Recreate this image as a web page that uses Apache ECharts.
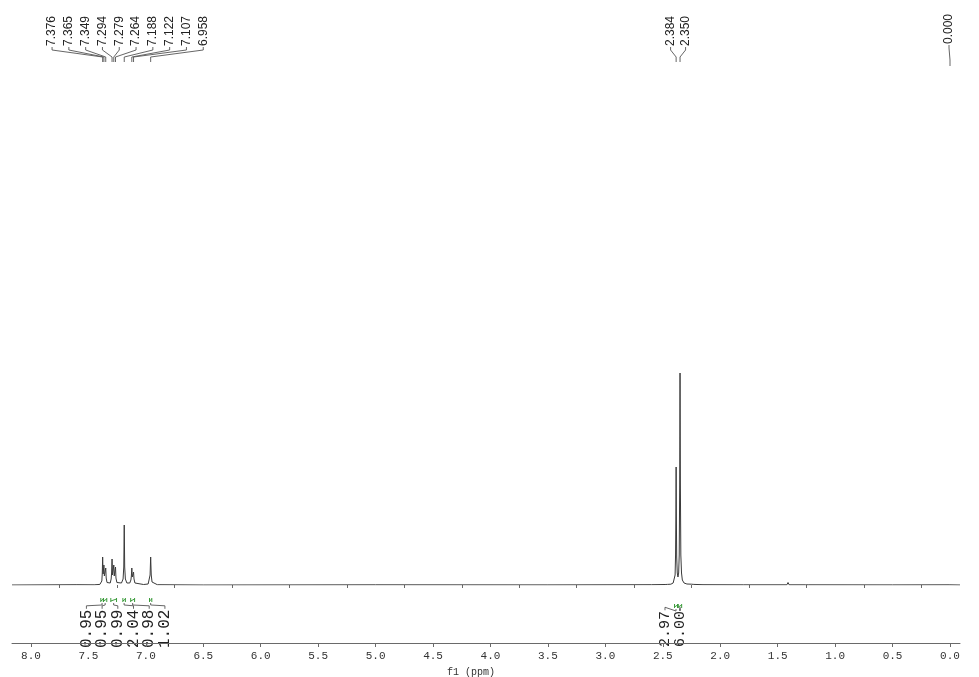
<!DOCTYPE html>
<html><head><meta charset="utf-8">
<script src="https://cdn.jsdelivr.net/npm/echarts@6/dist/echarts.min.js"></script>
<style>html,body{margin:0;padding:0;background:#fff}#c{width:979px;height:677px}</style>
</head><body><div id="c"></div>
<script>
// ---- data ----
const specPpm = [8.165,7.60,7.45,7.40,7.390,7.383,7.379,7.376,7.372,7.369,7.365,7.361,7.354,7.349,7.345,7.338,7.325,7.310,7.302,7.298,7.294,7.290,7.284,7.279,7.275,7.269,7.264,7.260,7.252,7.235,7.212,7.198,7.192,7.188,7.184,7.178,7.165,7.140,7.130,7.126,7.122,7.118,7.112,7.107,7.103,7.095,7.080,7.020,6.980,6.970,6.963,6.958,6.953,6.946,6.935,6.900,6.500,5.000,3.500,2.600,2.480,2.467,2.460,2.430,2.410,2.400,2.393,2.389,2.386,2.384,2.382,2.379,2.374,2.368,2.362,2.357,2.353,2.350,2.347,2.343,2.337,2.330,2.315,2.290,2.250,2.238,2.230,2.150,1.800,1.420,1.410,1.400,1.255,1.245,1.235,0.500,0.008,0.000,-0.008,-0.087];
const specInt = [0,0.3,0.2,0.6,1.5,4,12,28,11,11,20,9,8,17,7,2.5,1.2,2,6,12,26,10,10,20,9,9,18,7,2.5,1.2,2,6,18,60,18,6,2,2,5,9,17,8,7,13,6,2,1,0.5,1,3,10,28,10,3,1,0.3,0,0.2,0.1,0.3,0.5,2,0.6,0.8,2,4,10,30,70,118,70,28,12,8,12,30,100,212,100,30,12,5,2,1,0.8,2,0.6,0.3,0.2,0.2,2.5,0.2,0.2,1.2,0.2,0.1,0.2,2,0.2,0];
const majorTicks = [0,0.5,1,1.5,2,2.5,3,3.5,4,4.5,5,5.5,6,6.5,7,7.5,8];
const minorTicks = [0.25,0.75,1.25,1.75,2.25,2.75,3.25,3.75,4.25,4.75,5.25,5.75,6.25,6.75,7.25,7.75];
const peaksAromatic = [7.376,7.365,7.349,7.294,7.279,7.264,7.188,7.122,7.107,6.958];
const peaksMethyl = [2.384,2.350];
const peaksRef = [0.000];
const intAroFrom = [7.392,7.368,7.305,7.200,7.132,6.968];
const intAroTo   = [7.370,7.340,7.255,7.178,7.098,6.948];
const intAroVals = ['0.95','0.95','0.99','2.04','0.98','1.02'];
const intMetFrom = [2.398,2.365];
const intMetTo   = [2.372,2.336];
const intMetVals = ['2.97','6.00'];

const chart = echarts.init(document.getElementById('c'), null, {renderer:'canvas'});
const axBase = {type:'value', inverse:true, min:-0.087, max:8.165, position:'bottom', offset:58, splitLine:{show:false}};
chart.setOption({
  animation:false,
  backgroundColor:'#fff',
  grid:{left:12,right:19,top:0,bottom:92,outerBoundsMode:'none',containLabel:false},
  xAxis:[
    Object.assign({}, axBase, {
      axisLine:{show:true,onZero:false,lineStyle:{color:'#6a6a6a',width:1}},
      axisTick:{show:true,length:4,customValues:majorTicks,lineStyle:{color:'#6a6a6a'}},
      axisLabel:{customValues:majorTicks,formatter:v=>v.toFixed(1),margin:8,fontFamily:'Liberation Mono',fontSize:11,color:'#333'},
      name:'f1 (ppm)',nameLocation:'middle',nameGap:20,
      nameTextStyle:{fontFamily:'Liberation Mono',fontSize:10,color:'#333',padding:[0,30,0,0]}
    }),
    Object.assign({}, axBase, {
      axisLine:{show:false},
      axisTick:{show:true,length:3,customValues:minorTicks,lineStyle:{color:'#6a6a6a'}},
      axisLabel:{show:false}
    })
  ],
  yAxis:{type:'value',min:0,max:585,show:false},
  series:[{
    type:'line',xAxisIndex:0,showSymbol:false,symbol:'none',
    data:specPpm.map((p,i)=>[p,specInt[i]]),
    lineStyle:{color:'#3a3a3a',width:1},
    clip:true
  }]
});

function px(p){return chart.convertToPixel({xAxisIndex:0}, p);}
const els = [];
function peakGroup(ppms, spacing, shift, textBottom, lineTop, bendY, lineEnd){
  const xs = ppms.map(px);
  const c = (Math.min(...xs)+Math.max(...xs))/2 + shift;
  const n = ppms.length;
  ppms.forEach((p,i)=>{
    const lx = c + (i-(n-1)/2)*spacing;
    els.push({type:'text',x:lx,y:textBottom,rotation:Math.PI/2,
      style:{text:p.toFixed(3),font:'12px "Liberation Sans"',fill:'#222',align:'left',verticalAlign:'middle'}});
    els.push({type:'polyline',shape:{points:[[lx,lineTop],[lx,lineTop+3],[xs[i],bendY],[xs[i],lineEnd]]},
      style:{stroke:'#555',lineWidth:0.9,fill:null}});
  });
}
peakGroup(peaksAromatic,16.8,1,46,47,57,62);
peakGroup(peaksMethyl,15,0,46,47,57,62);
peakGroup(peaksRef,0,-1,44,45,60,66);

function intGroup(from,to,vals,spacing,shift,textBottom,gy,fs){
  const xa = from.map(px), xb = to.map(px);
  const xc = xa.map((a,i)=>(a+xb[i])/2);
  const c = (Math.min(...xc)+Math.max(...xc))/2 + shift;
  const n = vals.length;
  vals.forEach((v,i)=>{
    const lx = c + (i-(n-1)/2)*spacing;
    const top = textBottom - fs*2.45;
    els.push({type:'text',x:lx,y:textBottom,rotation:Math.PI/2,
      style:{text:v,font:fs+'px "Liberation Mono"',fill:'#222',align:'left',verticalAlign:'middle'}});
    els.push({type:'polyline',shape:{points:[[lx,top],[lx,top-3],[xc[i],gy+5],[xc[i],gy+3]]},
      style:{stroke:'#555',lineWidth:0.9,fill:null}});
    const g = {stroke:'#3c9c3c',lineWidth:1,fill:null};
    els.push({type:'polyline',shape:{points:[[xa[i],gy-2],[xa[i],gy+2]]},style:g});
    els.push({type:'polyline',shape:{points:[[xb[i],gy-2],[xb[i],gy+2]]},style:g});
    els.push({type:'polyline',shape:{points:[[xa[i],gy+1],[xb[i],gy-1]]},style:g});
  });
}
intGroup(intAroFrom,intAroTo,intAroVals,15.7,-0.7,648,600,16);
intGroup(intMetFrom,intMetTo,intMetVals,15,-5.5,647,606,15);
chart.setOption({graphic:{elements:els}});
</script></body></html>
